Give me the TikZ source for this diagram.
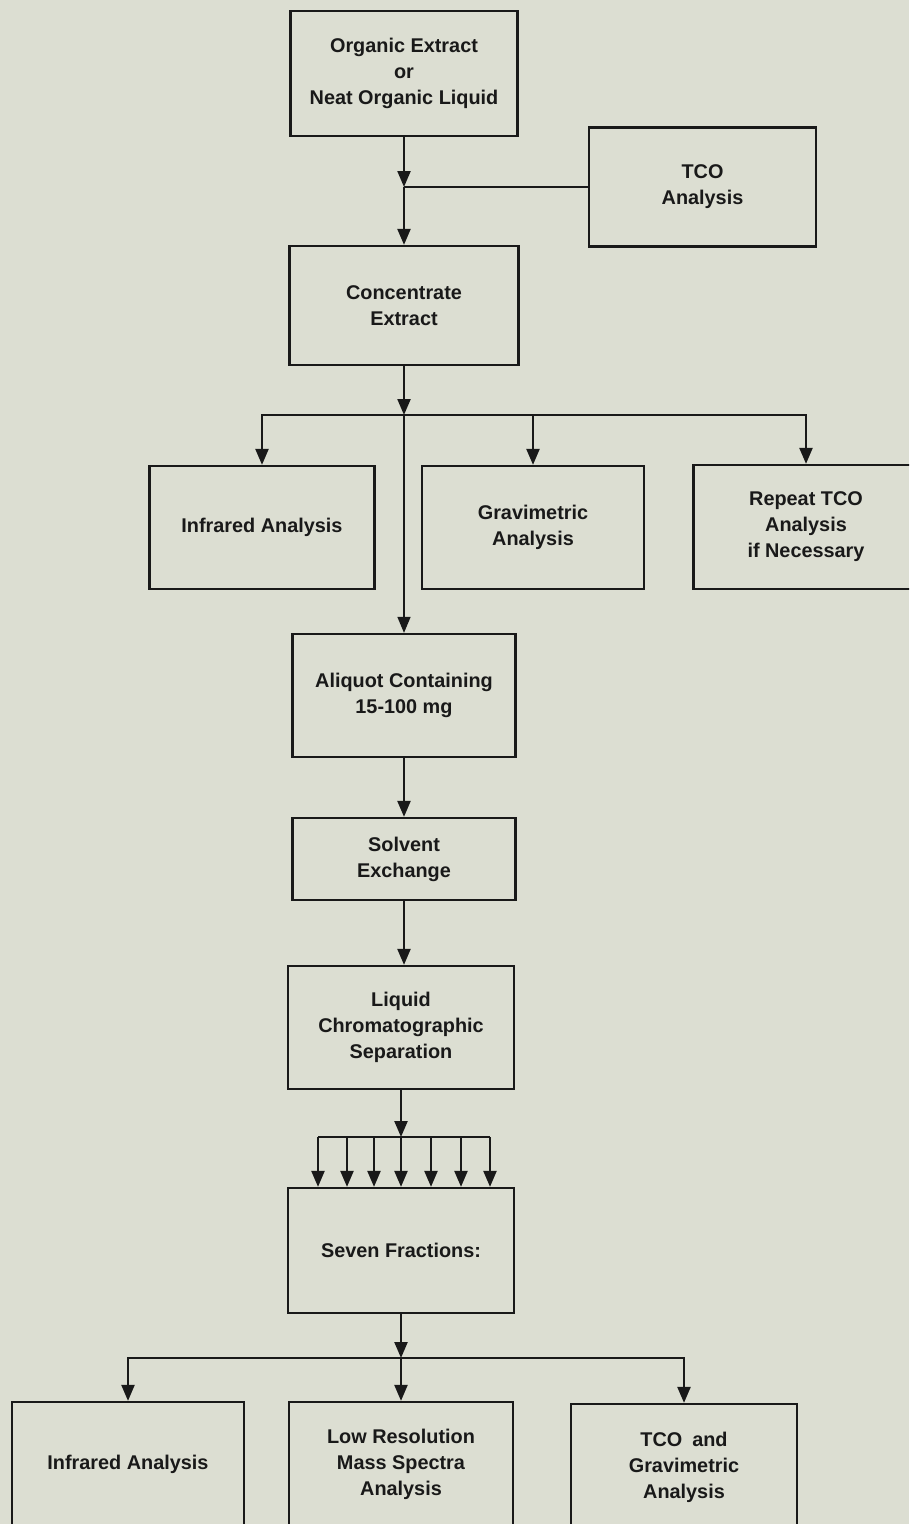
\documentclass[tikz,border=0pt]{standalone}
\usepackage{fontspec}
\setmainfont{Liberation Sans}
\usetikzlibrary{arrows.meta}
\definecolor{paper}{RGB}{220,222,210}
\definecolor{ink}{RGB}{25,25,25}

\begin{document}
\begin{tikzpicture}[x=0.02cm, y=-0.02cm,
    font=\fontsize{11.3}{14.8}\selectfont\bfseries,
    box/.style={draw=ink, line width=1.3pt, text=ink, align=center,
                inner sep=2pt},
    arr/.style={draw=ink, line width=1.3pt,
                -{Triangle[length=0.32cm, width=0.26cm]}},
    ln/.style={draw=ink, line width=1.3pt}]
    \useasboundingbox (0,0) rectangle (909,1524);
    \clip (0,0) rectangle (909,1524);
    \fill[paper] (0,0) rectangle (909,1524);
    % boxes
    \node[box, minimum width=4.54cm, minimum height=2.5cm] (org) at (404, 73.5)
      {Organic Extract\\or\\Neat Organic Liquid};
    \node[box, minimum width=4.54cm, minimum height=2.38cm] (tco) at (702.5, 187)
      {TCO\\Analysis};
    \node[box, minimum width=4.58cm, minimum height=2.38cm] (conc) at (404, 305.5)
      {Concentrate\\Extract};
    \node[box, minimum width=4.5cm, minimum height=2.46cm] (ir) at (262, 527.5)
      {Infrared Analysis};
    \node[box, minimum width=4.44cm, minimum height=2.46cm] (grav) at (533, 527.5)
      {Gravimetric\\Analysis};
    \node[box, minimum width=4.5cm, minimum height=2.48cm] (rep) at (806, 527)
      {Repeat TCO\\Analysis\\if Necessary};
    \node[box, minimum width=4.46cm, minimum height=2.46cm] (aliq) at (404, 695.5)
      {Aliquot Containing\\15-100 mg};
    \node[box, minimum width=4.46cm, minimum height=1.64cm] (solv) at (404, 859)
      {Solvent\\Exchange};
    \node[box, minimum width=4.52cm, minimum height=2.46cm] (lc) at (401, 1027.5)
      {Liquid\\Chromatographic\\Separation};
    \node[box, minimum width=4.52cm, minimum height=2.5cm] (sev) at (401, 1250.5)
      {Seven Fractions:};
    \node[box, minimum width=4.64cm, minimum height=2.48cm] (ir2) at (128, 1464)
      {Infrared Analysis};
    \node[box, minimum width=4.48cm, minimum height=2.48cm] (lrms) at (401, 1464)
      {Low Resolution\\Mass Spectra\\Analysis};
    \node[box, minimum width=4.52cm, minimum height=2.52cm] (tcog) at (684, 1467)
      {TCO\enspace and\\Gravimetric\\Analysis};
    % junctions
    \coordinate (j1) at (404, 187);
    \coordinate (j2) at (404, 415);
    \coordinate (j3) at (401, 1137);
    \coordinate (j4) at (401, 1358);
    % connectors
    \draw[arr] (org) -- (j1);
    \draw[ln] (tco) -- (j1);
    \draw[arr] (j1) -- (conc);
    \draw[arr] (conc) -- (j2);
    \draw[arr] (j2) -| (ir);
    \draw[arr] (j2) -| (grav);
    \draw[arr] (j2) -| (rep);
    \draw[arr, line width=0.8pt] (j2) -- (aliq);
    \draw[arr] (aliq) -- (solv);
    \draw[arr] (solv.south) -- (solv.south |- lc.north);
    \draw[arr] (lc) -- (j3);
    \draw[ln] (318, 1137) -- (490, 1137);
    \foreach \x in {318, 347, 374, 401, 431, 461, 490}
      \draw[arr] (\x, 1137) -- (\x, 1137 |- sev.north);
    \draw[arr] (sev) -- (j4);
    \draw[arr] (j4) -| (ir2);
    \draw[arr] (j4) -- (lrms);
    \draw[arr] (j4) -| (tcog);
\end{tikzpicture}
\end{document}
